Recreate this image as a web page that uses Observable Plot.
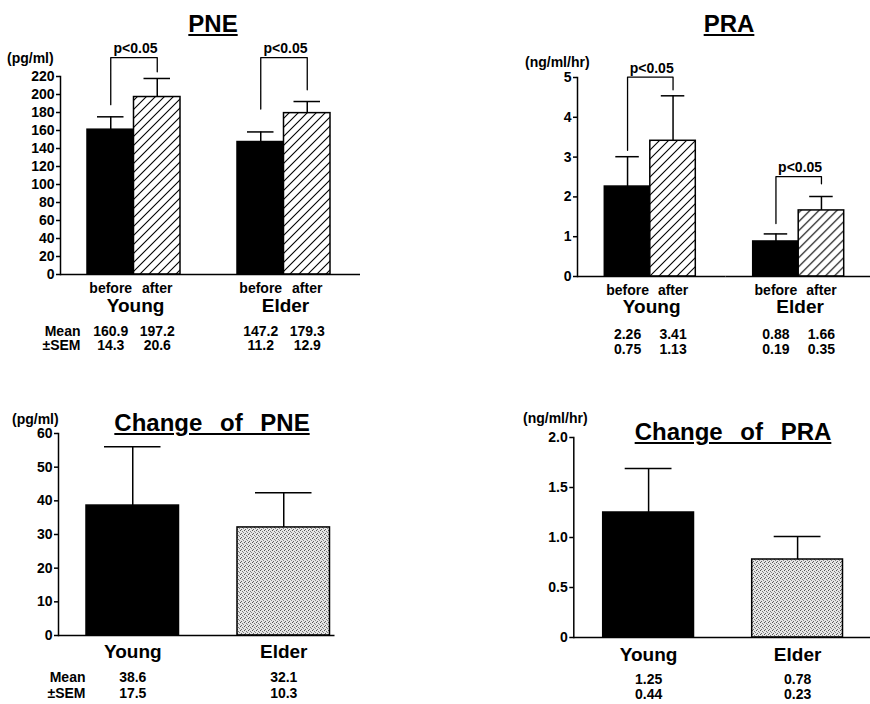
<!DOCTYPE html>
<html><head><meta charset="utf-8">
<script src="https://cdn.jsdelivr.net/npm/d3@7"></script>
<script src="https://cdn.jsdelivr.net/npm/@observablehq/plot@0.6"></script>
<style>
html,body{margin:0;padding:0;background:#fff;overflow:hidden;}
#page{position:relative;width:870px;height:704px;overflow:hidden;font-family:"Liberation Sans",Arial,Helvetica,sans-serif;font-weight:bold;color:#000;}
.title{position:absolute;font-size:24px;line-height:24px;white-space:nowrap;text-decoration:underline;text-decoration-thickness:2px;text-underline-offset:2px;transform:translateX(-50%);}
.unit{position:absolute;font-size:14px;line-height:14px;white-space:nowrap;}
</style></head>
<body>
<svg width="0" height="0" style="position:absolute">
<defs>
<pattern id="hatch" patternUnits="userSpaceOnUse" width="9" height="9">
<rect width="9" height="9" fill="#fff"/>
<path d="M-1,10 L10,-1 M-3,3 L3,-3 M6,12 L12,6" stroke="#000" stroke-width="1.1" fill="none"/>
</pattern>
<pattern id="stipple" patternUnits="userSpaceOnUse" width="4" height="4">
<rect width="4" height="4" fill="#e6e6e6"/>
<rect x="0" y="0" width="1" height="1" fill="#555"/>
<rect x="2" y="1" width="1" height="1" fill="#777"/>
<rect x="1" y="3" width="1" height="1" fill="#666"/>
<rect x="3" y="2" width="1" height="1" fill="#888"/>
</pattern>
</defs></svg>
<div id="page"></div>
<script>
// ---------- data ----------
const groups = ["Young", "Elder"];
const conditions = ["before", "after"];
// order: Young before, Young after, Elder before, Elder after
const pneMean = [160.9, 197.2, 147.2, 179.3];
const pneSEM = [14.3, 20.6, 11.2, 12.9];
const praMean = [2.26, 3.41, 0.88, 1.66];
const praSEM = [0.75, 1.13, 0.19, 0.35];
const pneTicks = [0, 20, 40, 60, 80, 100, 120, 140, 160, 180, 200, 220];
const praTicks = [0, 1, 2, 3, 4, 5];
// significance brackets (data units): top level, left leg start, right leg end
const pneBracketTop = [241, 241];
const pneBracketLeft = [188.7, 183.9];
const pneBracketRight = [225.3, 205.3];
const praBracketTop = [5.01, 2.51];
const praBracketLeft = [3.17, 1.33];
const praBracketRight = [4.69, 2.33];
const bracketLabel = "p<0.05";
// change after - before
const changeGroups = ["Young", "Elder"];
const dPneMean = [38.6, 32.1];
const dPneSEM = [17.5, 10.3];
const dPraMean = [1.25, 0.78];
const dPraSEM = [0.44, 0.23];
const dPneTicks = [0, 10, 20, 30, 40, 50, 60];
const dPraTicks = [0, 0.5, 1.0, 1.5, 2.0];
const statLabels = ["Mean", "\u00B1SEM"];

// ---------- helpers ----------
const FONT = '"Liberation Sans", Arial, Helvetica, sans-serif';
const page = document.getElementById("page");
function addDiv(cls, text, left, top, extra) {
  const d = document.createElement("div");
  d.className = cls; d.textContent = text;
  d.style.left = left + "px"; d.style.top = top + "px";
  if (extra) Object.assign(d.style, extra);
  page.append(d);
}
function mount(svg, L) {
  svg.style.position = "absolute";
  svg.style.left = L.left + "px";
  svg.style.top = L.top + "px";
  page.append(svg);
}
const baseStyle = {fontFamily: FONT, fontWeight: "bold", fontSize: "14px", color: "#000", background: "transparent", overflow: "visible"};

function pairedPanel(o) {
  const L = o.layout;
  const rows = [];
  groups.forEach((g, gi) => conditions.forEach((c, ci) => {
    const i = gi * 2 + ci;
    rows.push({group: g, cond: c, mean: o.mean[i], sem: o.sem[i], top: o.mean[i] + o.sem[i]});
  }));
  const br = [];
  groups.forEach((g, gi) => {
    br.push({group: g, cond: "before", v: o.bLeft[gi]},
            {group: g, cond: "before", v: o.bTop[gi]},
            {group: g, cond: "after", v: o.bTop[gi]},
            {group: g, cond: "after", v: o.bRight[gi]});
  });
  const brLab = groups.map((g, gi) => ({group: g, v: o.bTop[gi]}));
  const marginLeft = L.axisX - L.left;
  const width = L.width;
  const marginRight = Math.max(0, width - marginLeft - 2 * L.step);
  const outer = L.step - 2 * L.bw;
  const marks = [
    Plot.barY(rows.filter(d => d.cond === "before"), {fx: "group", x: "cond", y: "mean", fill: "#000", stroke: "#000", strokeWidth: 1.5}),
    Plot.barY(rows.filter(d => d.cond === "after"), {fx: "group", x: "cond", y: "mean", fill: "url(#hatch)", stroke: "#000", strokeWidth: 1.5}),
    Plot.ruleX(rows, {fx: "group", x: "cond", y1: "mean", y2: "top", strokeWidth: 1.5}),
    Plot.tickY(rows, {fx: "group", x: "cond", y: "top", insetLeft: L.cap, insetRight: L.cap, strokeWidth: 1.5}),
    Plot.line(br, {fx: "group", x: "cond", y: "v", strokeWidth: 1.3}),
    Plot.text(brLab, {fx: "group", y: "v", text: () => bracketLabel, dy: -9, fontSize: 14, fontWeight: "bold"}),
    Plot.ruleY([0], {strokeWidth: 1.5}),
    Plot.frame({anchor: "left", facetAnchor: "left", strokeWidth: 1.5}),
    Plot.axisY({ticks: o.ticks, tickFormat: o.tickFmt, tickSize: 4, tickPadding: 2, fontSize: 14, fontWeight: "bold", label: null, strokeWidth: 1.5}),
    Plot.text(rows, {fx: "group", x: "cond", text: "cond", frameAnchor: "bottom", dy: L.dyCond, fontSize: 14, fontWeight: "bold"}),
    Plot.text(groups, {fx: d => d, text: d => d, frameAnchor: "bottom", dy: L.dyGroup, fontSize: 19, fontWeight: "bold"}),
    Plot.text(rows, {fx: "group", x: "cond", text: d => o.fmt(d.mean), frameAnchor: "bottom", dy: L.dyMean, fontSize: 14, fontWeight: "bold"}),
    Plot.text(rows, {fx: "group", x: "cond", text: d => o.fmt(d.sem), frameAnchor: "bottom", dy: L.dySem, fontSize: 14, fontWeight: "bold"})
  ];
  if (o.rowLabels) {
    marks.push(
      Plot.text([statLabels[0]], {fx: () => groups[0], frameAnchor: "bottom-left", dx: L.dxLabel, dy: L.dyMean, textAnchor: "end", fontSize: 14, fontWeight: "bold"}),
      Plot.text([statLabels[1]], {fx: () => groups[0], frameAnchor: "bottom-left", dx: L.dxLabel, dy: L.dySem, textAnchor: "end", fontSize: 14, fontWeight: "bold"})
    );
  }
  const svg = Plot.plot({
    width, height: L.height,
    marginLeft, marginRight, marginTop: L.marginTop, marginBottom: L.marginBottom,
    style: baseStyle,
    facet: {marginTop: 0, marginRight: 0, marginBottom: 0, marginLeft: 0},
    fx: {domain: groups, paddingInner: 0, paddingOuter: 0, axis: null, label: null, round: false},
    x: {domain: conditions, paddingInner: 0, paddingOuter: outer / (2 * L.bw), align: L.lp / outer, axis: null, round: false},
    y: {domain: [0, o.ticks[o.ticks.length - 1]]},
    marks
  });
  mount(svg, L);
}

function changePanel(o) {
  const L = o.layout;
  const rows = changeGroups.map((g, i) => ({group: g, mean: o.mean[i], sem: o.sem[i], top: o.mean[i] + o.sem[i]}));
  const marginLeft = L.axisX - L.left;
  const R = L.range;
  const marginRight = Math.max(0, L.width - marginLeft - R);
  const pi = 1 - L.bw / L.step;
  const po = (R / L.step - 2 + pi) / 2;
  const align = L.lp / (R - L.step - L.bw);
  const marks = [
    Plot.barY(rows.filter((d, i) => i === 0), {x: "group", y: "mean", fill: "#000", stroke: "#000", strokeWidth: 1.5}),
    Plot.barY(rows.filter((d, i) => i === 1), {x: "group", y: "mean", fill: "url(#stipple)", stroke: "#000", strokeWidth: 1.5}),
    Plot.ruleX(rows, {x: "group", y1: "mean", y2: "top", strokeWidth: 1.5}),
    Plot.tickY(rows, {x: "group", y: "top", insetLeft: L.cap, insetRight: L.cap, strokeWidth: 1.5}),
    Plot.ruleY([0], {strokeWidth: 1.5}),
    Plot.frame({anchor: "left", strokeWidth: 1.5}),
    Plot.axisY({ticks: o.ticks, tickFormat: o.tickFmt, tickSize: 4, tickPadding: 2, fontSize: 14, fontWeight: "bold", label: null, strokeWidth: 1.5}),
    Plot.text(rows, {x: "group", text: "group", frameAnchor: "bottom", dy: L.dyGroup, fontSize: 19, fontWeight: "bold"}),
    Plot.text(rows, {x: "group", text: d => o.fmt(d.mean), frameAnchor: "bottom", dy: L.dyMean, fontSize: 14, fontWeight: "bold"}),
    Plot.text(rows, {x: "group", text: d => o.fmt(d.sem), frameAnchor: "bottom", dy: L.dySem, fontSize: 14, fontWeight: "bold"})
  ];
  if (o.rowLabels) {
    marks.push(
      Plot.text([statLabels[0]], {frameAnchor: "bottom-left", dx: L.dxLabel, dy: L.dyMean, textAnchor: "end", fontSize: 14, fontWeight: "bold"}),
      Plot.text([statLabels[1]], {frameAnchor: "bottom-left", dx: L.dxLabel, dy: L.dySem, textAnchor: "end", fontSize: 14, fontWeight: "bold"})
    );
  }
  const svg = Plot.plot({
    width: L.width, height: L.height,
    marginLeft, marginRight, marginTop: L.marginTop, marginBottom: L.marginBottom,
    style: baseStyle,
    x: {domain: changeGroups, paddingInner: pi, paddingOuter: po, align, axis: null, round: false},
    y: {domain: [0, o.ticks[o.ticks.length - 1]]},
    marks
  });
  mount(svg, L);
}

// ---------- panels ----------
pairedPanel({
  mean: pneMean, sem: pneSEM, ticks: pneTicks, tickFmt: d3.format("d"), fmt: d => d.toFixed(1),
  bTop: pneBracketTop, bLeft: pneBracketLeft, bRight: pneBracketRight, rowLabels: true,
  layout: {left: 0, top: 0, width: 370, height: 370, axisX: 60, step: 150, bw: 46.5, lp: 27,
           marginTop: 76, marginBottom: 96, cap: 10, dyCond: 18, dyGroup: 37, dyMean: 61, dySem: 75, dxLabel: 20}
});
pairedPanel({
  mean: praMean, sem: praSEM, ticks: praTicks, tickFmt: d3.format("d"), fmt: d => d.toFixed(2),
  bTop: praBracketTop, bLeft: praBracketLeft, bRight: praBracketRight, rowLabels: false,
  layout: {left: 494, top: 0, width: 380, height: 370, axisX: 577, step: 148.4, bw: 45.5, lp: 27.3,
           marginTop: 77, marginBottom: 94, cap: 11, dyCond: 18, dyGroup: 36, dyMean: 62, dySem: 77}
});
changePanel({
  mean: dPneMean, sem: dPneSEM, ticks: dPneTicks, tickFmt: d3.format("d"), fmt: d => d.toFixed(1), rowLabels: true,
  layout: {left: 0, top: 390, width: 370, height: 314, axisX: 58, range: 276.5, step: 151, bw: 92.5, lp: 28,
           marginTop: 43, marginBottom: 69, cap: 18, dyGroup: 22, dyMean: 46.5, dySem: 62, dxLabel: 27}
});
changePanel({
  mean: dPraMean, sem: dPraSEM, ticks: dPraTicks, tickFmt: d => d === 0 ? "0" : d.toFixed(1), fmt: d => d.toFixed(2), rowLabels: false,
  layout: {left: 500, top: 390, width: 372, height: 314, axisX: 573.3, range: 298.2, step: 149, bw: 90.8, lp: 29.4,
           marginTop: 47, marginBottom: 67, cap: 22, dyGroup: 23.5, dyMean: 46.5, dySem: 61}
});

// ---------- titles and units ----------
addDiv("title", "PNE", 213, 12);
addDiv("title", "PRA", 729, 12);
addDiv("title", "Change of PNE", 212, 411, {wordSpacing: "11px"});
addDiv("title", "Change of PRA", 733, 420, {wordSpacing: "11px"});
addDiv("unit", "(pg/ml)", 7, 51);
addDiv("unit", "(ng/ml/hr)", 525, 55);
addDiv("unit", "(pg/ml)", 12, 412);
addDiv("unit", "(ng/ml/hr)", 523, 411);
</script>
</body></html>
